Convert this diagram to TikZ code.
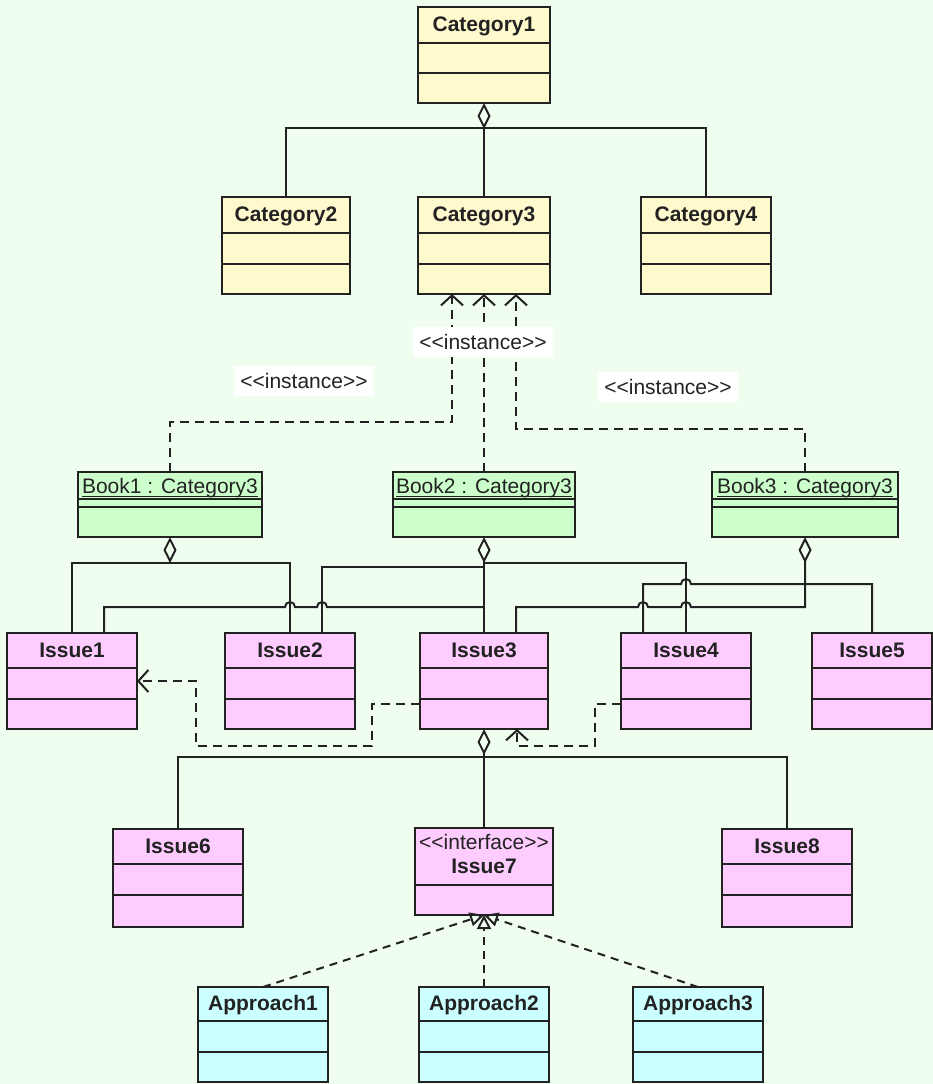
\documentclass[tikz,border=0pt]{standalone}
\usepackage{fontspec}
\setmainfont{Liberation Sans}
\usetikzlibrary{arrows.meta,calc}

\definecolor{bgc}{RGB}{239,254,238}
\definecolor{catfill}{RGB}{255,250,205}
\definecolor{objfill}{RGB}{204,255,204}
\definecolor{issfill}{RGB}{255,204,255}
\definecolor{appfill}{RGB}{204,255,255}
\definecolor{ink}{RGB}{34,34,34}

% stereotype brackets kept as plain angle signs
\newcommand\stL{<\kern0pt<}
\newcommand\stR{>\kern0pt>}

% class box: name, fill, x1, y1, x2, y2, divider rows
\newcommand\umlbox[7]{%
  \node[classbox, fill=#2, minimum width={(#5)-(#3)}, minimum height={(#6)-(#4)}]
    (#1) at ({((#3)+(#5))/2},{((#4)+(#6))/2}) {};
  \foreach \dy in {#7} {\draw[divider] (#1.west |- 0,\dy) -- (#1.east |- 0,\dy);}
}

\tikzset{
  classbox/.style={draw=ink, line width=2pt, rectangle, inner sep=0pt, outer sep=0pt},
  divider/.style={draw=ink, line width=2pt},
  title/.style={font=\fontsize{21}{25}\selectfont\bfseries, text=ink, inner sep=0pt, anchor=base},
  plain/.style={font=\fontsize{21}{25}\selectfont, text=ink, inner sep=0pt, anchor=base},
  link/.style={draw=ink, line width=2pt},
  aggr/.style={link, {Diamond[open,length=26pt,width=13pt]}-},
  inst/.style={link, dash pattern=on 9pt off 6pt, -{Straight Barb[length=10pt,width=22pt]}},
  realize/.style={link, dash pattern=on 8pt off 6pt, -{Triangle[open,length=14pt,width=14pt]}},
  stereo/.style={plain, fill=white, inner xsep=6pt, inner ysep=7.5pt, anchor=center},
  uline/.style={draw=ink, line width=1pt}
}

\begin{document}
\begin{tikzpicture}[x=1pt, y=-1pt]
\fill[bgc] (0,0) rectangle (933,1084);
\useasboundingbox (0,0) rectangle (933,1084);

% ---------- categories ----------
\umlbox{Category1}{catfill}{418}{7}{550}{103}{43,73}
\umlbox{Category2}{catfill}{222}{197}{350}{294}{233,264}
\umlbox{Category3}{catfill}{418}{197}{550}{294}{233,264}
\umlbox{Category4}{catfill}{641}{197}{771}{294}{233,264}
\node[title] (Category1T) at (Category1.north |- 0,31) {Category1};
\node[title] (Category2T) at (Category2.north |- 0,221) {Category2};
\node[title] (Category3T) at (Category3.north |- 0,221) {Category3};
\node[title] (Category4T) at (Category4.north |- 0,221) {Category4};

% ---------- book objects ----------
\umlbox{Book1}{objfill}{78}{472}{262}{537}{499,507}
\umlbox{Book2}{objfill}{393}{472}{575}{537}{499,507}
\umlbox{Book3}{objfill}{712}{472}{898}{537}{499,507}
\foreach \b in {1,2,3} {
  \node[plain] (Book\b T) at (Book\b.north |- 0,493) {Book\b\ : Category3};
  \draw[uline] ($(Book\b T.base west)+(0,3)$) -- ($(Book\b T.base east)+(0,3)$);
}

% ---------- issues ----------
\umlbox{Issue1}{issfill}{7}{633}{137}{729}{668,699}
\umlbox{Issue2}{issfill}{225}{633}{355}{729}{668,699}
\umlbox{Issue3}{issfill}{420}{633}{548}{729}{668,699}
\umlbox{Issue4}{issfill}{621}{633}{751}{729}{668,699}
\umlbox{Issue5}{issfill}{812}{633}{932}{729}{668,699}
\foreach \i in {1,...,5} {
  \node[title] (Issue\i T) at (Issue\i.north |- 0,657) {Issue\i};
}
\umlbox{Issue6}{issfill}{113}{829}{243}{927}{864,895}
\umlbox{Issue7}{issfill}{415}{828}{553}{915}{885}
\umlbox{Issue8}{issfill}{722}{829}{852}{927}{864,895}
\node[title] (Issue6T) at (Issue6.north |- 0,853) {Issue6};
\node[plain] (Issue7S) at (Issue7.north |- 0,849) {\stL interface\stR};
\node[title] (Issue7T) at (Issue7.north |- 0,873) {Issue7};
\node[title] (Issue8T) at (Issue8.north |- 0,853) {Issue8};

% ---------- approaches ----------
\umlbox{Approach1}{appfill}{198}{987}{328}{1082}{1021,1052}
\umlbox{Approach2}{appfill}{419}{987}{549}{1082}{1021,1052}
\umlbox{Approach3}{appfill}{633}{987}{763}{1082}{1021,1052}
\foreach \a in {1,2,3} {
  \node[title] (Approach\a T) at (Approach\a.north |- 0,1010) {Approach\a};
}

% ---------- category aggregation ----------
\coordinate (c1j) at (Category1.south |- 0,128);
\draw[aggr] (Category1.south) -- (Category3.north);
\draw[link] (Category2.north) |- (c1j) -| (Category4.north);

% ---------- instance-of dependencies ----------
\draw[inst] (Book2.north) -- (Book2.north |- Category3.south);
\draw[inst] (Book1.north) |- ($(Category3.south)+(-32,128)$) -- ($(Category3.south)+(-32,0)$);
\draw[inst] (Book3.north) |- ($(Category3.south)+(32,135)$) -- ($(Category3.south)+(32,0)$);
\node[stereo] (inst1) at (304,381) {\stL instance\stR};
\node[stereo] (inst2) at (483,342) {\stL instance\stR};
\node[stereo] (inst3) at (668,387) {\stL instance\stR};

% ---------- Book1 aggregation ----------
\coordinate (b1j) at (Book1.south |- 0,563);
\draw[aggr] (Book1.south) -- (b1j);
\draw[link] (Issue1.north) |- (b1j) -| (Issue2.north);

% ---------- Book2 aggregation ----------
\coordinate (b2j) at (Book2.south |- 0,563);
\draw[aggr] (Book2.south) -- (Book2.south |- Issue3.north);
\draw[link] (b2j) -| (Issue4.north);
\draw[link] ($(b2j)+(0,4)$) -| ($(Issue2.north)+(32,0)$);
\draw[link] ($(Issue1.north)+(32,0)$) |- (285,607)
  arc[start angle=180, end angle=0, radius=5pt] -- (317,607)
  arc[start angle=180, end angle=0, radius=5pt] -- (Book2.south |- 0,607);

% ---------- Book3 aggregation ----------
\coordinate (b3j) at (Book3.south |- 0,584);
\draw[aggr] (Book3.south) -- (Book3.south |- 0,607) -- (691,607)
  arc[start angle=0, end angle=180, radius=5pt] -- (648,607)
  arc[start angle=0, end angle=180, radius=5pt] -- ($(Issue3.north)+(32,-26)$)
  -- ($(Issue3.north)+(32,0)$);
\draw[link] ($(Issue4.north)+(-43,0)$) |- (681,584)
  arc[start angle=180, end angle=0, radius=5pt] -- (b3j) -| (Issue5.north);

% ---------- dependencies between issues ----------
\draw[inst] (Issue3.west |- 0,704) -- (372,704) -- (372,746) -- (196,746) |- (Issue1.east);
\draw[inst] (Issue4.west |- 0,704) -- (595,704) -- (595,746) -| ($(Issue3.south)+(33,0)$);

% ---------- Issue3 aggregation ----------
\coordinate (i3j) at (Issue3.south |- 0,757);
\draw[aggr] (Issue3.south) -- (Issue7.north);
\draw[link] (Issue6.north) |- (i3j) -| (Issue8.north);

% ---------- realizations of the interface ----------
\draw[realize] (Approach1.north) -- (Issue7.south);
\draw[realize] (Approach2.north) -- (Issue7.south);
\draw[realize] (Approach3.north) -- (Issue7.south);
\end{tikzpicture}
\end{document}
